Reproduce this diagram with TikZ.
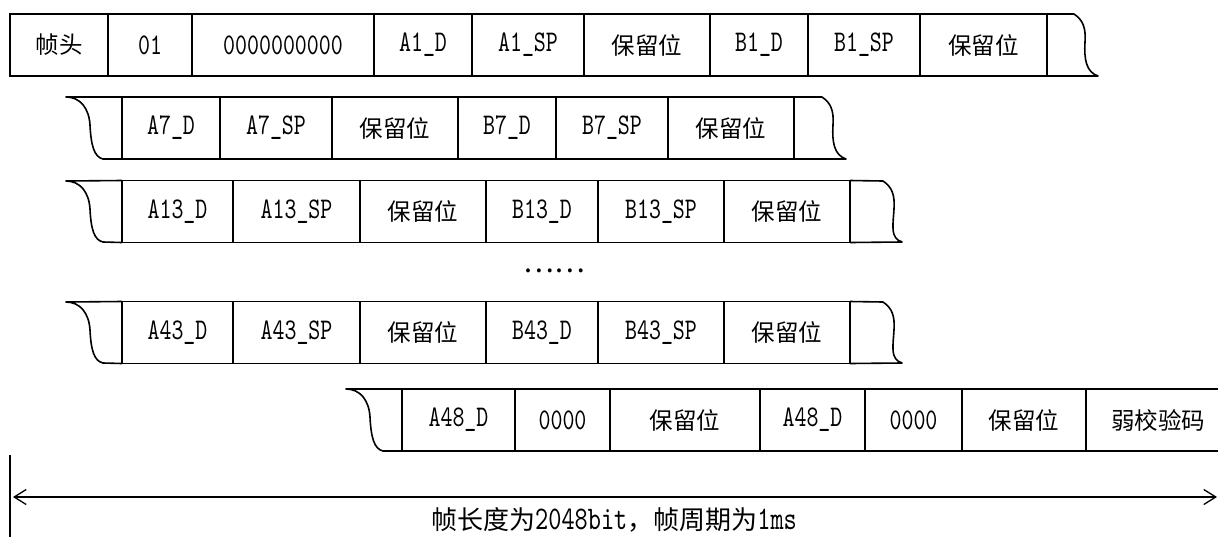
\documentclass[tikz,border=0pt]{standalone}
\usepackage{fontspec}
\setmainfont{lmmono10-regular.otf}[FakeStretch=0.76]
\newfontfamily\cjk{Noto Sans CJK SC}
\newcommand\zh[1]{{\cjk\fontsize{23.5}{28}\selectfont #1}}
\newcommand\zhd[1]{{\cjk\fontsize{29}{34}\selectfont #1}}
\newcommand\zhc[1]{{\cjk\fontsize{26}{30}\selectfont #1}}
\usetikzlibrary{calc,arrows.meta}
\tikzset{
  cell/.style={draw, line width=1.6pt, inner sep=0pt, outer sep=0pt,
    minimum height=62pt, font=\fontsize{30}{34}\selectfont},
  brk/.style={line width=1.6pt, line join=round},
  arr/.style={line width=1.3pt, {Straight Barb[length=12pt,width=15pt]}-{Straight Barb[length=12pt,width=15pt]}},
  vline/.style={line width=1.6pt}
}
% right break: #1 NE anchor, #2 SE anchor, #3 x1, #4 yt, #5 x2, #6 yb
\newcommand\rbrk[6]{\draw[brk] (#1) -- (#3,#4) .. controls ($(#3,#4)+(9,6)$) and ($(#3,#4)+(12,14)$) .. ($(#3,#4)+(11,28)$) .. controls ($(#3,#4)+(10,45)$) and ($(#5,#6)+(-12,-4)$) .. (#5,#6) -- (#2);}
% left break: #1 NW anchor, #2 SW anchor, #3 x0, #4 yt, #5 xb, #6 yb
\newcommand\lbrk[6]{\draw[brk] (#1) -- (#3,#4) .. controls ($(#3,#4)+(14,0)$) and ($(#3,#4)+(23,11)$) .. ($(#3,#4)+(24,28)$) .. controls ($(#3,#4)+(25,48)$) and ($(#5,#6)+(-9,-2)$) .. (#5,#6) -- (#2);}
\begin{document}
\begin{tikzpicture}[x=1pt,y=-1pt]
\useasboundingbox (0,0) rectangle (1218,536);
\clip (0,0) rectangle (1218,536);
% Row 1
\node[cell, minimum width=98pt]  (a1) at (59,45)    {\zh{帧头}};
\node[cell, minimum width=84pt]  (a2) at (150,45)   {01};
\node[cell, minimum width=182pt] (a3) at (283,45)   {0000000000};
\node[cell, minimum width=98pt]  (a4) at (423,45)   {A1\_D};
\node[cell, minimum width=112pt] (a5) at (528,45)   {A1\_SP};
\node[cell, minimum width=126pt] (a6) at (647,45)   {\zh{保留位}};
\node[cell, minimum width=98pt]  (a7) at (759,45)   {B1\_D};
\node[cell, minimum width=112pt] (a8) at (864,45)   {B1\_SP};
\node[cell, minimum width=127pt] (a9) at (983.5,45) {\zh{保留位}};
\rbrk{a9.north east}{a9.south east}{1074}{14}{1098}{76}
% Row 2
\node[cell, minimum width=98pt]  (b1) at (171,128) {A7\_D};
\node[cell, minimum width=112pt] (b2) at (276,128) {A7\_SP};
\node[cell, minimum width=126pt] (b3) at (395,128) {\zh{保留位}};
\node[cell, minimum width=98pt]  (b4) at (507,128) {B7\_D};
\node[cell, minimum width=112pt] (b5) at (612,128) {B7\_SP};
\node[cell, minimum width=126pt] (b6) at (731,128) {\zh{保留位}};
\lbrk{b1.north west}{b1.south west}{66}{97}{103}{159}
\rbrk{b6.north east}{b6.south east}{822}{97}{846}{159}
% Row 3
\node[cell, minimum width=111pt] (c1) at (177.5,211.5) {A13\_D};
\node[cell, minimum width=127pt] (c2) at (296.5,211.5) {A13\_SP};
\node[cell, minimum width=126pt] (c3) at (423,211.5)   {\zh{保留位}};
\node[cell, minimum width=112pt] (c4) at (542,211.5)   {B13\_D};
\node[cell, minimum width=126pt] (c5) at (661,211.5)   {B13\_SP};
\node[cell, minimum width=126pt] (c6) at (787,211.5)   {\zh{保留位}};
\lbrk{c1.north west}{c1.south west}{66}{181}{103}{242}
\rbrk{c6.north east}{c6.south east}{883}{181}{902}{242}
% dots
\node[inner sep=0pt] (dots) at (554,271) {\zhd{……}};
% Row 4
\node[cell, minimum width=111pt] (d1) at (177.5,332.5) {A43\_D};
\node[cell, minimum width=127pt] (d2) at (296.5,332.5) {A43\_SP};
\node[cell, minimum width=126pt] (d3) at (423,332.5)   {\zh{保留位}};
\node[cell, minimum width=112pt] (d4) at (542,332.5)   {B43\_D};
\node[cell, minimum width=126pt] (d5) at (661,332.5)   {B43\_SP};
\node[cell, minimum width=126pt] (d6) at (787,332.5)   {\zh{保留位}};
\lbrk{d1.north west}{d1.south west}{66}{302}{103}{363}
\rbrk{d6.north east}{d6.south east}{883}{302}{902}{363}
% Row 5
\node[cell, minimum width=113pt] (e1) at (458.5,420) {A48\_D};
\node[cell, minimum width=95pt]  (e2) at (562.5,420) {0000};
\node[cell, minimum width=150pt] (e3) at (685,420)   {\zh{保留位}};
\node[cell, minimum width=105pt] (e4) at (812.5,420) {A48\_D};
\node[cell, minimum width=97pt]  (e5) at (913.5,420) {0000};
\node[cell, minimum width=124pt] (e6) at (1024,420)  {\zh{保留位}};
\node[cell, minimum width=144pt] (e7) at (1158,420)  {\zh{弱校验码}};
\lbrk{e1.north west}{e1.south west}{346}{389}{383}{451}
% bottom dimension
\coordinate (vt) at (10,455);
\coordinate (vb) at (10,540);
\draw[vline] (vt) -- (vb);
\coordinate (L) at (13,497);
\coordinate (R) at (1217,497);
\draw[arr] (L) -- (R);
\node[inner sep=0pt, font=\fontsize{33}{36}\selectfont] (cap) at (614,520) {\zhc{帧长度为}2048bit\zhc{，帧周期为}1ms};
\end{tikzpicture}
\end{document}
